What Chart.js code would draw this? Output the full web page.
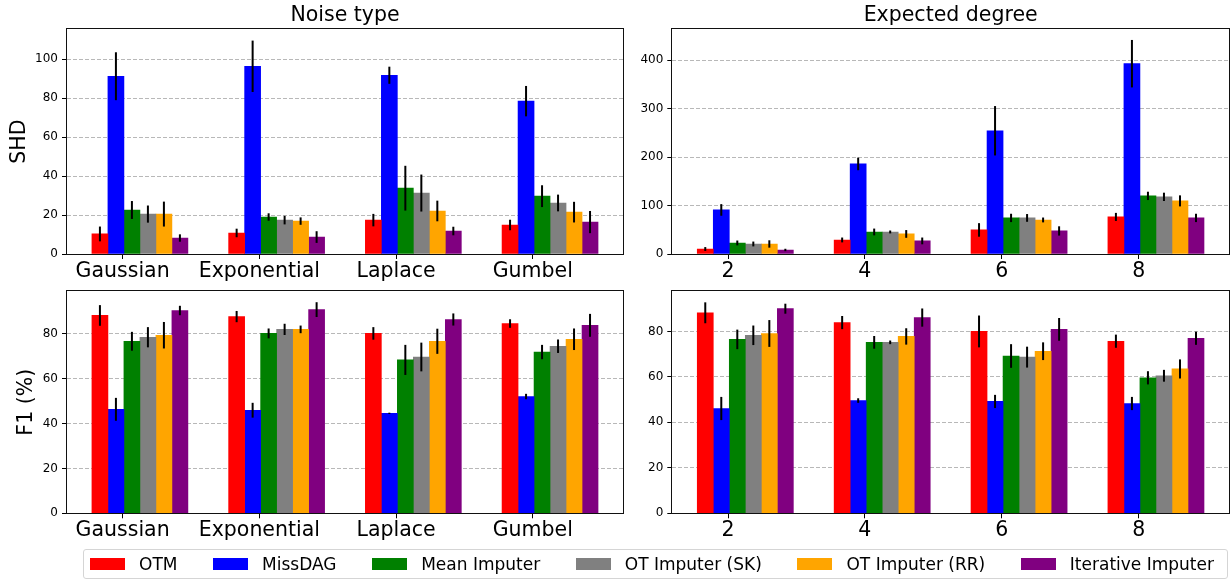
<!DOCTYPE html>
<html>
<head>
<meta charset="utf-8">
<script src="https://cdn.jsdelivr.net/npm/chart.js@4.4.0/dist/chart.umd.min.js"></script>
<style>
  body { margin: 0; background: #fff; width: 1230px; height: 579px; position: relative; overflow: hidden; font-family: "DejaVu Sans", sans-serif; }
  canvas { position: absolute; }
  #legend { position: absolute; left: 83px; top: 549px; width: 1145px; height: 30px; box-sizing: border-box;
            border: 1px solid #d5d5d5; border-radius: 3px; display: flex; align-items: center; justify-content: space-between;
            padding-left: 6px; padding-right: 13px; font-size: 17px; color: #000; }
  .item { display: flex; align-items: center; white-space: nowrap; }
  .swatch { width: 35px; height: 12px; margin-right: 14px; }
</style>
</head>
<body>
<canvas id="shdNoise" width="630" height="285" style="left:0;top:0"></canvas>
<canvas id="shdDegree" width="600" height="285" style="left:630px;top:0"></canvas>
<canvas id="f1Noise" width="630" height="265" style="left:0;top:280px"></canvas>
<canvas id="f1Degree" width="600" height="265" style="left:630px;top:280px"></canvas>
<div id="legend"></div>
<script>
const methods = ["OTM", "MissDAG", "Mean Imputer", "OT Imputer (SK)", "OT Imputer (RR)", "Iterative Imputer"];
const colors = ["#ff0000", "#0000ff", "#008000", "#808080", "#ffa500", "#800080"];
const noiseTypes = ["Gaussian", "Exponential", "Laplace", "Gumbel"];
const degrees = ["2", "4", "6", "8"];

// rows follow `methods`, columns follow the x categories
const noiseShd = [
  [10.3, 10.8, 17.4, 14.9],
  [91.3, 96.4, 91.8, 78.5],
  [22.6, 19.0, 33.8, 29.7],
  [20.5, 17.4, 31.3, 26.2],
  [20.5, 16.9, 22.1, 21.5],
  [8.2, 8.7, 11.8, 16.4]
];
const noiseShdErr = [
  [3.8, 2.2, 3.2, 2.7],
  [12.3, 13.2, 4.4, 7.8],
  [4.6, 1.9, 11.5, 5.6],
  [4.4, 2.2, 9.5, 4.3],
  [6.4, 1.9, 5.3, 5.3],
  [1.9, 3.0, 2.2, 5.7]
];
const degreeShd = [
  [10.3, 29, 49.7, 76.6],
  [91, 186, 254.5, 393],
  [22.8, 45.5, 74.5, 120],
  [20.7, 45.5, 74.5, 118],
  [20.7, 41.4, 70.3, 109.7],
  [8.3, 27, 47.6, 74.5]
];
const degreeShdErr = [
  [4, 5, 14, 8.3],
  [12, 13, 51, 49],
  [5, 7, 8.6, 8.6],
  [5, 3, 8, 8.6],
  [7.6, 8, 5, 11.4],
  [2.5, 7, 9.6, 8.6]
];
const noiseF1 = [
  [88.1, 87.6, 80.1, 84.5],
  [46.3, 45.9, 44.5, 52.0],
  [76.6, 80.1, 68.3, 71.8],
  [78.4, 81.9, 69.6, 74.4],
  [79.3, 81.9, 76.6, 77.5],
  [90.3, 90.7, 86.3, 83.7]
];
const noiseF1Err = [
  [4.6, 2.5, 2.8, 1.9],
  [5.1, 3.3, 0.3, 1.2],
  [4.2, 2.2, 6.7, 3.2],
  [4.5, 2.5, 6.4, 3.0],
  [5.9, 1.7, 5.6, 4.8],
  [2.1, 3.3, 2.7, 5.1]
];
const degreeF1 = [
  [88.2, 83.9, 80.0, 75.7],
  [46.1, 49.6, 49.2, 48.3],
  [76.5, 75.2, 69.2, 59.6],
  [78.3, 75.2, 68.7, 60.5],
  [79.1, 77.8, 71.3, 63.5],
  [90.0, 86.1, 80.9, 77.0]
];
const degreeF1Err = [
  [4.6, 2.9, 7.0, 2.9],
  [5.1, 1.0, 2.9, 2.9],
  [4.3, 2.8, 5.2, 2.9],
  [4.3, 0.8, 4.6, 2.6],
  [5.9, 3.6, 3.9, 4.2],
  [2.2, 4.0, 5.0, 2.9]
];

// bar placement within a category (in category units)
const barWidth = 0.117;
const barShift = -1.42;

// draws the vertical error lines on top of the bars
const errorBars = {
  id: "errorBars",
  afterDatasetsDraw(chart) {
    const ctx = chart.ctx;
    const y = chart.scales.y;
    ctx.save();
    ctx.strokeStyle = "#000";
    ctx.lineWidth = 2;
    chart.data.datasets.forEach((ds, k) => {
      chart.getDatasetMeta(k).data.forEach((bar, i) => {
        const v = ds.data[i].y;
        const e = ds.errors[i];
        ctx.beginPath();
        ctx.moveTo(bar.x, y.getPixelForValue(v - e));
        ctx.lineTo(bar.x, y.getPixelForValue(v + e));
        ctx.stroke();
      });
    });
    ctx.restore();
  }
};

// full box around the plot area
const frame = {
  id: "frame",
  afterDraw(chart) {
    const a = chart.chartArea;
    const ctx = chart.ctx;
    ctx.save();
    ctx.strokeStyle = "#111";
    ctx.lineWidth = 1;
    ctx.strokeRect(Math.round(a.left) - 0.5, Math.round(a.top) - 0.5,
      Math.round(a.right - a.left) + 1, Math.round(a.bottom - a.top) + 1);
    ctx.restore();
  }
};

function makePanel(id, cfg) {
  const datasets = methods.map((name, k) => ({
    label: name,
    data: cfg.labels.map((_, i) => ({ x: i + (k + barShift) * barWidth, y: cfg.values[k][i] })),
    errors: cfg.errors[k],
    backgroundColor: colors[k],
    borderWidth: 0,
    grouped: false,
    barPercentage: 1,
    categoryPercentage: 1
  }));

  new Chart(document.getElementById(id), {
    type: "bar",
    data: { datasets: datasets },
    options: {
      responsive: false,
      animation: false,
      events: [],
      layout: { padding: cfg.padding },
      plugins: {
        legend: { display: false },
        tooltip: { enabled: false },
        title: {
          display: !!cfg.title,
          text: cfg.title,
          fullSize: false,
          color: "#000",
          font: { family: "DejaVu Sans", size: 20.5, weight: "normal" },
          padding: { top: 3, bottom: 1.7 }
        }
      },
      scales: {
        x: {
          type: "linear",
          offset: false,
          min: -0.407,
          max: 3.66,
          afterBuildTicks: (s) => { s.ticks = cfg.labels.map((_, i) => ({ value: i })); },
          afterFit: (s) => { s.height = cfg.xHeight; },
          ticks: {
            callback: (v) => cfg.labels[v],
            autoSkip: false,
            maxRotation: 0,
            padding: 0,
            color: "#000",
            font: { family: "DejaVu Sans", size: 20.5 }
          },
          grid: { offset: false, drawOnChartArea: false, drawTicks: true, tickLength: 5, tickColor: "#000" },
          border: { display: false }
        },
        y: {
          min: 0,
          max: cfg.yMax,
          afterFit: (s) => { s.width = cfg.yWidth; },
          ticks: {
            stepSize: cfg.yStep,
            includeBounds: false,
            padding: 4,
            color: "#000",
            font: { family: "DejaVu Sans", size: 12 }
          },
          grid: { color: "#b8b8b8", lineWidth: 1, tickColor: "#000", tickLength: 5 },
          border: { display: false, dash: [4, 2] },
          title: {
            display: !!cfg.yTitle,
            text: cfg.yTitle,
            color: "#000",
            font: { family: "DejaVu Sans", size: 20.5 },
            padding: { top: cfg.yTitlePad || 0, bottom: 0 }
          }
        }
      }
    },
    plugins: [errorBars, frame]
  });
}

makePanel("shdNoise", {
  labels: noiseTypes, values: noiseShd, errors: noiseShdErr,
  title: "Noise type", yTitle: "SHD", yTitlePad: 7,
  yMax: 115.4, yStep: 20, yWidth: 67, xHeight: 31,
  padding: { top: 0, right: 7, bottom: 0, left: 0 }
});
makePanel("shdDegree", {
  labels: degrees, values: degreeShd, errors: degreeShdErr,
  title: "Expected degree",
  yMax: 464, yStep: 100, yWidth: 42.3, xHeight: 31,
  padding: { top: 0, right: 1, bottom: 0, left: 0 }
});
makePanel("f1Noise", {
  labels: noiseTypes, values: noiseF1, errors: noiseF1Err,
  yTitle: "F1 (%)", yTitlePad: 14.7,
  yMax: 98.9, yStep: 20, yWidth: 67, xHeight: 31.7,
  padding: { top: 8.3, right: 7, bottom: 0, left: 0 }
});
makePanel("f1Degree", {
  labels: degrees, values: degreeF1, errors: degreeF1Err,
  yMax: 97.7, yStep: 20, yWidth: 42.3, xHeight: 31.7,
  padding: { top: 8.3, right: 1, bottom: 0, left: 0 }
});

// shared legend under the panels
const legend = document.getElementById("legend");
methods.forEach((name, k) => {
  const item = document.createElement("div");
  item.className = "item";
  item.innerHTML = `<span class="swatch" style="background:${colors[k]}"></span><span>${name}</span>`;
  legend.appendChild(item);
});
</script>
</body>
</html>
